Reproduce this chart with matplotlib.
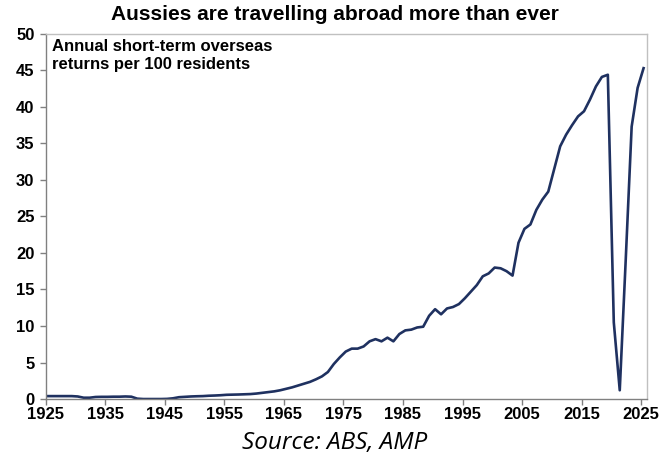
import numpy as np
import matplotlib.pyplot as plt

# Annual short-term overseas returns per 100 residents
years = np.arange(1925, 2026)
returns_per_100 = [
    0.40, 0.40, 0.40, 0.40, 0.40, 0.35, 0.18, 0.18, 0.28, 0.30,   # 1925-1934
    0.30, 0.32, 0.32, 0.35, 0.32, 0.05, 0.00, 0.00, 0.00, 0.00,   # 1935-1944
    0.02, 0.10, 0.25, 0.30, 0.35, 0.38, 0.40, 0.45, 0.48, 0.52,   # 1945-1954
    0.58, 0.60, 0.62, 0.65, 0.68, 0.75, 0.85, 0.95, 1.05, 1.20,   # 1955-1964
    1.40, 1.60, 1.85, 2.10, 2.35, 2.70, 3.10, 3.70, 4.80, 5.70,   # 1965-1974
    6.50, 6.90, 6.90, 7.20, 7.90, 8.20, 7.90, 8.40, 7.90, 8.90,   # 1975-1984
    9.40, 9.50, 9.80, 9.90, 11.4, 12.3, 11.6, 12.4, 12.6, 13.0,   # 1985-1994
    13.8, 14.7, 15.6, 16.8, 17.2, 18.0, 17.9, 17.5, 16.9, 21.4,   # 1995-2004
    23.3, 23.9, 25.9, 27.3, 28.4, 31.5, 34.6, 36.2, 37.5, 38.7,   # 2005-2014
    39.4, 41.0, 42.8, 44.1, 44.4, 10.5, 1.2, 19.0, 37.3, 42.6,    # 2015-2024
    45.3,                                                         # 2025
]
x_ticks = np.arange(1925, 2026, 10)
y_ticks = np.arange(0, 51, 5)

title = "Aussies are travelling abroad more than ever"
label = "Annual short-term overseas\nreturns per 100 residents"
source = "Source: ABS, AMP"

plt.rcParams['font.family'] = ['Liberation Sans', 'DejaVu Sans']

fig = plt.figure(figsize=(6.7, 4.7), dpi=100)
ax = fig.add_axes([0.068, 0.151, 0.897, 0.777])

# values sit mid-year on the date axis
ax.plot(years + 0.4, returns_per_100, color="#1f3160", lw=1.9)

ax.set_xlim(1925, 2025.9)
ax.set_ylim(0, 50)
ax.set_xticks(x_ticks)
ax.set_yticks(y_ticks)
ax.tick_params(axis="both", direction="out", length=4, width=1, color="#808080",
               labelsize=12)
ax.tick_params(axis="y", pad=4)
ax.tick_params(axis="x", pad=2)
for t in ax.get_xticklabels() + ax.get_yticklabels():
    t.set_fontweight("bold")

ax.spines["left"].set_color("#808080")
ax.spines["bottom"].set_color("#808080")
ax.spines["top"].set_color("#c0c0c0")
ax.spines["right"].set_color("#c0c0c0")
for s in ax.spines.values():
    s.set_linewidth(1)

ax.text(0.011, 0.985, label, transform=ax.transAxes, ha="left", va="top",
        fontsize=12, fontweight="bold", linespacing=1.2)

fig.text(0.5, 0.97, title, ha="center", va="center", fontsize=15, fontweight="bold")
fig.text(0.5, 0.057, source, ha="center", va="center", fontsize=17.5,
         style="italic", family=["Open Sans", "DejaVu Sans"])

fig.savefig("out.png", dpi=100)
